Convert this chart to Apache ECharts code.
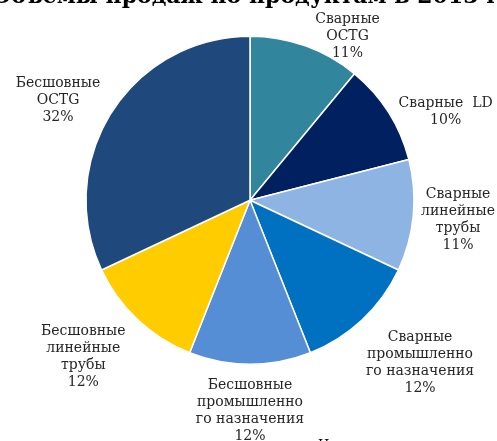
<!DOCTYPE html>
<html>
<head>
<meta charset="utf-8">
<script src="https://cdn.jsdelivr.net/npm/echarts@6/dist/echarts.min.js"></script>
<style>
html,body{margin:0;padding:0;background:#fff;}
#main{width:497px;height:441px;}
</style>
</head>
<body>
<div id="main"></div>
<script>
// Data
const titleText = 'Объемы продаж по продуктам в 2013 г.';
const sourceText = 'Источник: данные компании';
const categories = [
  'Сварные\nOCTG',
  'Сварные  LD',
  'Сварные\nлинейные\nтрубы',
  'Сварные\nпромышленно\nго назначения',
  'Бесшовные\nпромышленно\nго назначения',
  'Бесшовные\nлинейные\nтрубы',
  'Бесшовные\nOCTG'
];
const values = [11, 10, 11, 12, 12, 12, 32];
const colors = ['#31859C', '#002060', '#8EB4E3', '#0070C0', '#558ED5', '#FFCC00', '#1F497D'];

// label placement tweaks: [angle shift in degrees, gap from the rim]
const labelTweak = [[11, -12], [8, 1], [0, 5], [-3, 9], [0, 13], [3.5, 11], [-5, 3]];

const chart = echarts.init(document.getElementById('main'), null, {renderer: 'canvas'});
const total = values.reduce((a, b) => a + b, 0);
const R = 164;
const centerPct = ['50.3%', '45.4%'];

const option = {
  animation: false,
  backgroundColor: '#ffffff',
  title: {
    text: titleText,
    left: -8,
    top: -14,
    padding: 0,
    textStyle: {
      fontFamily: 'DejaVu Serif',
      fontWeight: 'bold',
      fontSize: 22,
      color: '#000000'
    }
  },
  graphic: [{
    type: 'text',
    left: 318,
    top: 439,
    style: {
      text: sourceText,
      font: '13px "DejaVu Serif"',
      fill: '#000000'
    }
  }],
  series: [{
    type: 'pie',
    center: centerPct,
    radius: [0, R],
    startAngle: 90,
    clockwise: true,
    avoidLabelOverlap: false,
    emphasis: {disabled: true},
    itemStyle: {borderColor: '#ffffff', borderWidth: 1.5},
    label: {
      show: true,
      position: 'outside',
      formatter: p => p.name + '\n' + p.value + '%',
      fontFamily: 'DejaVu Serif',
      fontSize: 14,
      lineHeight: 17,
      color: '#262626',
      align: 'center'
    },
    labelLine: {show: false},
    labelLayout: function (p) {
      const i = p.dataIndex;
      let acc = 0;
      for (let j = 0; j < i; j++) acc += values[j];
      const tw = labelTweak[i];
      const mid = (acc + values[i] / 2) / total * 2 * Math.PI + tw[0] * Math.PI / 180;
      const sx = Math.sin(mid), sy = -Math.cos(mid);
      const w = p.labelRect.width, h = p.labelRect.height;
      const cx = chart.getWidth() * parseFloat(centerPct[0]) / 100;
      const cy = chart.getHeight() * parseFloat(centerPct[1]) / 100;
      const d = R + tw[1] + Math.abs(sx) * w / 2 + Math.abs(sy) * h / 2;
      return {x: cx + sx * d, y: cy + sy * d, align: 'center', verticalAlign: 'middle'};
    },
    data: categories.map((c, i) => ({name: c, value: values[i], itemStyle: {color: colors[i]}}))
  }]
};
chart.setOption(option);
</script>
</body>
</html>
